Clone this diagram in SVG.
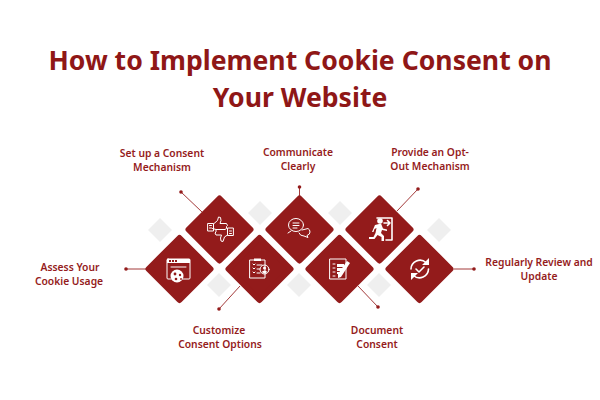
<svg xmlns="http://www.w3.org/2000/svg" width="600" height="400" viewBox="0 0 600 400">
<style>
.title{font:700 26.600px "Noto Sans","Liberation Sans",sans-serif;fill:#8f1717;text-anchor:middle}
.lbl{font:600 10.300px "Noto Sans","Liberation Sans",sans-serif;fill:#951c1c;text-anchor:middle}
.d{fill:#931b1b;stroke:#931b1b;stroke-width:6;stroke-linejoin:round}
.g{fill:#efefef}
.c line{stroke:#a33a3a;stroke-width:1}
.c circle{fill:#931b1b}
.i{fill:none;stroke:#fff;stroke-width:1;stroke-linejoin:round;stroke-linecap:round}
.t{stroke-width:1.600}
.f{fill:#fff}
.k{fill:#931b1b}
</style>
<defs>
<polygon id="dia" class="d" points="0,-31 31,0 0,31 -31,0"/>
<polygon id="gd" class="g" points="0,-12 12,0 0,12 -12,0"/>
</defs>
<rect width="600" height="400" fill="#fff"/>
<text class="title" x="300" y="69.500">How to Implement Cookie Consent on</text>
<text class="title" x="300" y="106.700">Your Website</text>
<g id="accents">
<use href="#gd" x="160" y="230"/><use href="#gd" x="260" y="213"/><use href="#gd" x="219" y="285"/>
<use href="#gd" x="299" y="285"/><use href="#gd" x="340" y="213"/><use href="#gd" x="379" y="285"/><use href="#gd" x="439" y="230"/>
</g>
<g id="connectors" class="c">
<line x1="146" y1="269" x2="126" y2="269"/><circle cx="126" cy="269" r="1.800"/>
<line x1="202" y1="212" x2="181" y2="192"/><circle cx="181" cy="192" r="1.800"/>
<line x1="240" y1="286" x2="219" y2="309"/><circle cx="219" cy="309" r="1.800"/>
<line x1="299.500" y1="196" x2="299.500" y2="187"/><circle cx="299.500" cy="187" r="1.800"/>
<line x1="358" y1="286" x2="378" y2="307"/><circle cx="378" cy="307" r="1.800"/>
<line x1="397" y1="211" x2="418" y2="189"/><circle cx="418" cy="189" r="1.800"/>
<line x1="454" y1="269" x2="474" y2="269"/><circle cx="474" cy="269" r="1.800"/>
</g>
<g id="node-assess"><use href="#dia" x="179.500" y="269"/>
<rect class="i" x="167" y="259" width="23" height="20" rx="1"/><path class="f" d="M167 259h23v4h-23z"/><path class="k" d="M169 260h2v2h-2zM172 260h2v2h-2zM175 260h2v2h-2z"/><line class="i" x1="171" y1="267" x2="186" y2="267"/>
<circle class="f" cx="177" cy="276" r="6.500"/><circle class="k" cx="175" cy="274" r="1.400"/><circle class="k" cx="180" cy="275" r="1.200"/><circle class="k" cx="176" cy="279" r="1.300"/><circle class="k" cx="181" cy="279" r="0.900"/>
<text class="lbl" x="70" y="270.500">Assess Your</text><text class="lbl" x="69" y="284.500">Cookie Usage</text></g>
<g id="node-setup"><use href="#dia" x="219.500" y="229.500"/>
<path class="i" d="M208 223.500h5.500v7.500h-5.500z M213.500 224l4-3.500 1-3.500 2 .5.500 3-1 3h6.500l1 2-1 1 0 2-1.500 1h-9l-3.500-1"/>
<path class="i" d="M233 228h-5.500v7.500h5.500z M227.500 235l-3 2-1.500 4.500-2-.5-.5-3 1-3h-5.500l-1-2 1-1 0-2"/>
<path class="i" d="M209.500 225.500h2M209.500 228h2M229.500 231h2M229.500 233.500h2"/>
<text class="lbl" x="162" y="156.700">Set up a Consent</text><text class="lbl" x="162" y="170.700">Mechanism</text></g>
<g id="node-customize"><use href="#dia" x="259.500" y="269"/>
<rect class="i" x="250" y="260" width="15" height="18"/><rect class="f" x="254" y="258.500" width="7" height="2.500"/>
<path class="i" d="M253 264l1 1 1-1M253 268l1 1 1-1M253 272l1 1 1-1M257 265h5M257 269h3M257 273h3"/><circle class="i" cx="264.500" cy="269.500" r="4.500"/><circle class="f" cx="264.500" cy="268" r="1.500"/><path class="f" d="M261.500 272q3-3 6 0l-3 1.500z"/>
<text class="lbl" x="219" y="334">Customize</text><text class="lbl" x="220" y="348">Consent Options</text></g>
<g id="node-communicate"><use href="#dia" x="299.500" y="229.500"/>
<ellipse class="i" cx="296" cy="225" rx="7.500" ry="6.500"/><path class="i" d="M293 223h6M293 225.500h6M293 228h4"/><path class="i" d="M302 230l6-1.500q2 1 2 3.500t-3 3.500l1 2-4-1.500q-4 0-5-3M291 231l-3 2"/>
<text class="lbl" x="298" y="156">Communicate</text><text class="lbl" x="298" y="170">Clearly</text></g>
<g id="node-document"><use href="#dia" x="339.500" y="269"/>
<rect class="i" x="330" y="259" width="16" height="20"/><path class="i" d="M333 264h2M333 268h2M333 272h2M333 276h2"/><path class="f" d="M337 264h7v3h-7zM337 268h5v3h-5zM337 272h3v2h-3z"/>
<path class="f" d="M347 261l3 2-9 14-3 1 0-4z"/>
<text class="lbl" x="377" y="334">Document</text><text class="lbl" x="377" y="348">Consent</text></g>
<g id="node-optout"><use href="#dia" x="379.500" y="229.500"/>
<path class="i t" d="M377 218h15v22h-6"/><circle class="f" cx="380" cy="221" r="2.800"/>
<path class="f" d="M375 225l6-1.500 2 5 4 1v1.500l-5-1-1 3 3 3v5h-2.500v-4l-4-2-3 4h-5.500v-2h4.500l2-4 1-5-2 1-1 3h-1.500z"/>
<path class="i t" d="M384 223h6M387.500 220.500l2.500 2.500-2.500 2.500"/>
<text class="lbl" x="430" y="156">Provide an Opt-</text><text class="lbl" x="430" y="170">Out Mechanism</text></g>
<g id="node-review"><use href="#dia" x="419.500" y="269"/>
<path class="i t" d="M411 269a9 9 0 0 1 15-6.500M428.500 269a9 9 0 0 1-15 6.500"/>
<path class="f" d="M429 258v7h-7zM411 280v-7h7z"/><path class="i t" d="M416 269l3 3 5-5"/>
<text class="lbl" x="539" y="266">Regularly Review and</text><text class="lbl" x="539" y="280">Update</text></g>
</svg>
